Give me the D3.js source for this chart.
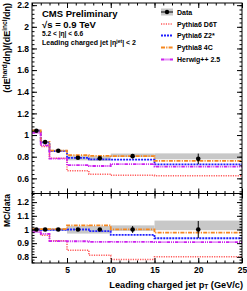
<!DOCTYPE html>
<html>
<head>
<meta charset="utf-8">
<script src="https://cdn.jsdelivr.net/npm/d3@7"></script>
<style>
  body { margin: 0; background: #fff; }
  svg { display: block; font-family: "Liberation Sans", Arial, sans-serif; font-weight: bold; }
</style>
</head>
<body>
<svg id="canvas" width="247" height="291"></svg>
<script>
// bin edges in leading charged jet pT (GeV/c)
const binEdges = [1, 2, 3, 5, 7.5, 10, 15, 25];
const binCenters = [1.5, 2.5, 4, 6.25, 8.75, 12.5, 20];

// data and uncertainties (relative)
const dataValues = [1.04, 0.935, 0.855, 0.79, 0.785, 0.805, 0.78];
const statErr = [0.005, 0.005, 0.005, 0.008, 0.01, 0.025, 0.062];
const sysUp = [0.01, 0.01, 0.01, 0.025, 0.025, 0.03, 0.065];
const sysDown = [0.01, 0.01, 0.01, 0.03, 0.03, 0.01, 0.005];

// MC predictions
const d6tValues = [1.03, 0.895, 0.785, 0.67, 0.637, 0.628, 0.624];
const z2Values = [1.04, 0.932, 0.852, 0.79, 0.775, 0.773, 0.73];
const p8Values = [1.042, 0.937, 0.857, 0.814, 0.808, 0.806, 0.762];
const hwValues = [1.02, 0.905, 0.782, 0.722, 0.714, 0.732, 0.708];

const topTicks = [0.6, 0.8, 1, 1.2, 1.4, 1.6, 1.8, 2, 2.2];
const botTicks = [0.8, 0.9, 1, 1.1, 1.2];
const xTicks = [5, 10, 15, 20, 25];

const series = [
  { name: 'Pythia6 D6T', values: d6tValues, color: '#ff5a5a', dash: '1.2,1.2', width: 1.5 },
  { name: 'Pythia6 Z2*', values: z2Values, color: '#2020ff', dash: '2,1', width: 1.8 },
  { name: 'Pythia8 4C', values: p8Values, color: '#f5871f', dash: '4,1.2,1.2,1.2', width: 1.8 },
  { name: 'Herwig++ 2.5', values: hwValues, color: '#cc22ee', dash: '3.5,1,1,1,1,1', width: 1.8 }
];

const canvas = d3.select('#canvas');

const x = d3.scaleLinear().domain([1, 25]).range([32, 242]);
const yTop = d3.scaleLinear().domain([0.46, 2.22]).range([193.5, 3]);
const yBot = d3.scaleLinear().domain([0.755, 1.263]).range([263, 193.5]);

const bins = dataValues.map((v, i) => ({ lo: binEdges[i], hi: binEdges[i + 1], c: binCenters[i], v: v, i: i }));

const stepPath = (vals, y) => {
  const pts = [];
  vals.forEach((v, i) => {
    pts.push([x(binEdges[i]), y(v)]);
    pts.push([x(binEdges[i + 1]), y(v)]);
  });
  return d3.line()(pts);
};

const drawPanel = (y, ratio) => {
  const g = canvas.append('g');
  const val = (b) => (ratio ? 1 : b.v);

  // systematic band
  g.selectAll('rect.band')
    .data(bins)
    .enter()
    .append('rect')
    .attr('class', 'band')
    .attr('x', (b) => x(b.lo))
    .attr('width', (b) => x(b.hi) - x(b.lo))
    .attr('y', (b) => y(val(b) * (1 + sysUp[b.i])))
    .attr('height', (b) => y(val(b) * (1 - sysDown[b.i])) - y(val(b) * (1 + sysUp[b.i])))
    .attr('fill', '#c8c8c8');

  // MC step lines
  series.forEach((s) => {
    const vals = ratio ? s.values.map((v, i) => v / dataValues[i]) : s.values;
    g.append('path')
      .attr('d', stepPath(vals, y))
      .attr('fill', 'none')
      .attr('stroke', s.color)
      .attr('stroke-width', s.width)
      .attr('stroke-dasharray', s.dash);
  });

  // data points
  g.selectAll('line.err')
    .data(bins)
    .enter()
    .append('line')
    .attr('x1', (b) => x(b.c))
    .attr('x2', (b) => x(b.c))
    .attr('y1', (b) => y(val(b) * (1 + statErr[b.i])))
    .attr('y2', (b) => y(val(b) * (1 - statErr[b.i])))
    .attr('stroke', '#000')
    .attr('stroke-width', 1);

  g.selectAll('circle')
    .data(bins)
    .enter()
    .append('circle')
    .attr('cx', (b) => x(b.c))
    .attr('cy', (b) => y(val(b)))
    .attr('r', 2.3)
    .attr('fill', '#000');
};

drawPanel(yTop, false);
drawPanel(yBot, true);

// axes, ROOT style: ticks inside on all sides
const minor = (lo, hi, step) => d3.range(Math.ceil(lo / step) * step, hi + 1e-9, step);
const xMinor = minor(1, 25, 1);

const addAxis = (axis, tx, ty, label) => {
  const a = canvas.append('g').attr('transform', 'translate(' + tx + ',' + ty + ')').call(axis);
  a.select('.domain').remove();
  a.selectAll('line').attr('stroke', '#000');
  a.selectAll('text')
    .attr('font-family', '"Liberation Sans", Arial, sans-serif')
    .attr('font-weight', 'bold')
    .attr('font-size', 8.5)
    .attr('fill', '#000');
  if (!label) a.selectAll('text').remove();
  return a;
};

const panelAxes = (y, top, bottom, majors, step, xLabels) => {
  const yMinor = minor(y.domain()[0], y.domain()[1], step);
  addAxis(d3.axisLeft(y).tickValues(majors).tickSize(-5).tickPadding(3).tickFormat(d3.format('~g')), 32, 0, true);
  addAxis(d3.axisLeft(y).tickValues(yMinor).tickSize(-2.5), 32, 0, false);
  addAxis(d3.axisRight(y).tickValues(majors).tickSize(-5), 242, 0, false);
  addAxis(d3.axisRight(y).tickValues(yMinor).tickSize(-2.5), 242, 0, false);
  addAxis(d3.axisTop(x).tickValues(xTicks).tickSize(-5), 0, top, false);
  addAxis(d3.axisTop(x).tickValues(xMinor).tickSize(-2.5), 0, top, false);
  addAxis(d3.axisBottom(x).tickValues(xTicks).tickSize(-5).tickPadding(4), 0, bottom, xLabels);
  addAxis(d3.axisBottom(x).tickValues(xMinor).tickSize(-2.5), 0, bottom, false);
  canvas.append('rect')
    .attr('x', 32).attr('y', top)
    .attr('width', 210).attr('height', bottom - top)
    .attr('fill', 'none').attr('stroke', '#000').attr('stroke-width', 1);
};

panelAxes(yTop, 3, 193.5, topTicks, 0.04, false);
panelAxes(yBot, 193.5, 263, botTicks, 0.02, true);

// texts
const txt = (xx, yy, size) => canvas.append('text')
  .attr('x', xx).attr('y', yy).attr('font-size', size).attr('fill', '#000');

txt(42, 17, 9.5).text('CMS Preliminary');
txt(42, 27.5, 9.5).text('\u221As = 0.9 TeV');
txt(42, 35.5, 6.6).text('5.2 < |\u03B7| < 6.6');
const lead = txt(42, 45, 7);
lead.append('tspan').text('Leading charged jet |\u03B7');
lead.append('tspan').attr('dy', -2.5).attr('font-size', 5).text('jet');
lead.append('tspan').attr('dy', 2.5).text('| < 2');

// legend
const legendRows = [12, 24, 35.5, 47.5, 59.5];
const lg = canvas.append('g');
lg.append('rect').attr('x', 161).attr('y', legendRows[0] - 3.5).attr('width', 12).attr('height', 7).attr('fill', '#c8c8c8');
lg.append('line').attr('x1', 161).attr('x2', 173).attr('y1', legendRows[0]).attr('y2', legendRows[0]).attr('stroke', '#000');
lg.append('circle').attr('cx', 167).attr('cy', legendRows[0]).attr('r', 2.2).attr('fill', '#000');
txt(177, legendRows[0] + 2.5, 7).text('Data');
series.forEach((s, i) => {
  const yy = legendRows[i + 1];
  lg.append('line')
    .attr('x1', 161).attr('x2', 173).attr('y1', yy).attr('y2', yy)
    .attr('stroke', s.color).attr('stroke-width', s.width).attr('stroke-dasharray', s.dash);
  txt(177, yy + 2.5, 7).text(s.name);
});

// axis titles
const yt = canvas.append('text')
  .attr('transform', 'translate(10,3) rotate(-90)')
  .attr('text-anchor', 'end').attr('font-size', 9).attr('fill', '#000');
yt.append('tspan').text('(dE');
yt.append('tspan').attr('dy', -3).attr('font-size', 6.5).text('hard');
yt.append('tspan').attr('dy', 3).text('/d\u03B7)/(dE');
yt.append('tspan').attr('dy', -3).attr('font-size', 6.5).text('incl');
yt.append('tspan').attr('dy', 3).text('/d\u03B7)');

canvas.append('text')
  .attr('transform', 'translate(10,194) rotate(-90)')
  .attr('text-anchor', 'end').attr('font-size', 8.5).attr('fill', '#000')
  .text('MC/data');

const xt = canvas.append('text')
  .attr('x', 243).attr('y', 287.5)
  .attr('text-anchor', 'end').attr('font-size', 9.2).attr('fill', '#000');
xt.append('tspan').text('Leading charged jet p');
xt.append('tspan').attr('dy', 1.5).attr('font-size', 6.5).text('T');
xt.append('tspan').attr('dy', -1.5).text(' (GeV/c)');
</script>
</body>
</html>
